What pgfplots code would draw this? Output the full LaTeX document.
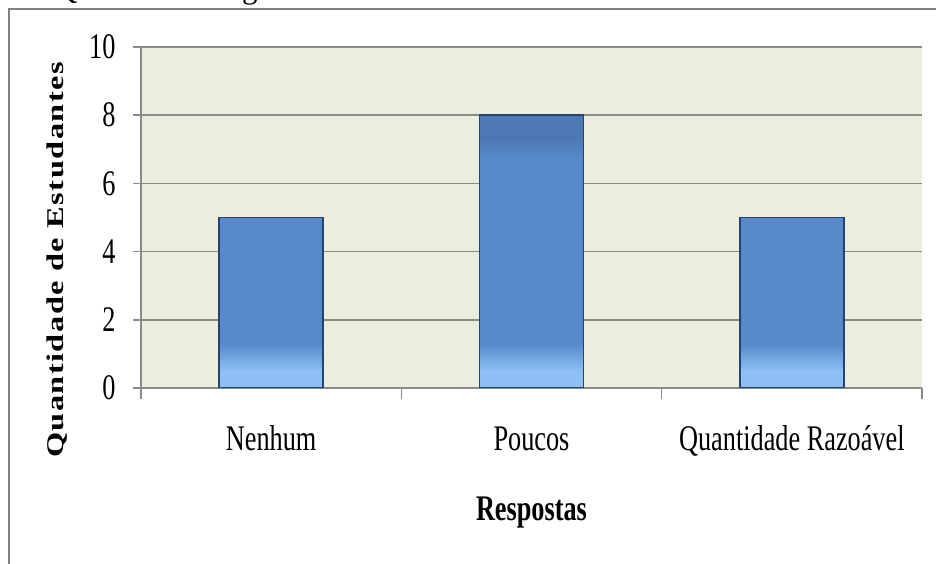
\documentclass[border=0pt]{standalone}
\usepackage{fontspec}
\setmainfont{Liberation Serif}
\newfontfamily\condfont[FakeStretch=0.73]{Liberation Serif}
\newfontfamily\ylabfont[FakeStretch=1.35,LetterSpace=6]{Liberation Serif}
\usepackage{pgfplots}
\pgfplotsset{compat=1.18}
\definecolor{plotbg}{RGB}{235,238,222}
\definecolor{gridc}{RGB}{138,138,138}
\definecolor{framec}{RGB}{128,128,128}
\definecolor{barlight}{RGB}{142,192,245}
\definecolor{barmid}{RGB}{88,138,203}
\definecolor{bartop}{RGB}{76,120,180}
\definecolor{baredge}{RGB}{38,68,112}
\pgfdeclareverticalshading{barshade}{100bp}{color(0bp)=(barlight); color(25bp)=(barlight); color(28bp)=(barlight); color(33bp)=(barmid); color(67bp)=(barmid); color(71bp)=(bartop); color(100bp)=(bartop)}
\begin{document}
\begin{tikzpicture}
\useasboundingbox (0,0) rectangle (936bp,564bp);
\fill[white] (0,0) rectangle (936bp,564bp);
\node[anchor=base west, inner sep=0, font=\fontsize{31bp}{36bp}\selectfont] at (18bp,565bp) {da Questão 6: Língua de Sinais};
\draw[framec, line width=2.5bp] (9bp,-5bp) -- (9bp,555bp) -- (945bp,555bp);
\begin{axis}[
  at={(141bp,176bp)}, anchor=south west,
  scale only axis, width=781bp, height=341bp,
  xmin=0, xmax=3, ymin=0, ymax=10,
  xtick={0.5,1.5,2.5},
  xticklabels={Nenhum,Poucos,Quantidade Razoável},
  minor xtick={0,1,2,3},
  every major x tick/.append style={draw=none},
  ytick={0,2,4,6,8,10},
  ymajorgrids,
  major grid style={gridc, line width=1.5bp},
  axis x line*=bottom, axis y line*=left,
  axis line style={gridc, line width=1.5bp, -},
  tick style={gridc, line width=1.5bp},
  tick align=outside,
  major tick length=8bp,
  minor tick length=11bp,
  axis background/.style={fill=plotbg},
  /pgf/number format/assume math mode=true,
  ticklabel style={font=\condfont\fontsize{36bp}{40bp}\selectfont},
  xticklabel style={anchor=base, yshift=-54bp},
  yticklabel style={anchor=east, xshift=-14bp},
  xlabel={Respostas},
  xlabel style={font=\condfont\bfseries\fontsize{36bp}{40bp}\selectfont, at={(axis description cs:0.5,-0.390)}, anchor=base},
  ylabel={Quantidade de Estudantes},
  ylabel style={font=\ylabfont\bfseries\fontsize{24bp}{28bp}\selectfont, at={(axis description cs:-0.1076,0.3754)}, anchor=center},
]
\addplot[ybar, bar width=0.4, shade, shading=barshade, draw=baredge, line width=1.5bp] coordinates {(0.5,5) (1.5,8) (2.5,5)};
\end{axis}
\end{tikzpicture}
\end{document}
